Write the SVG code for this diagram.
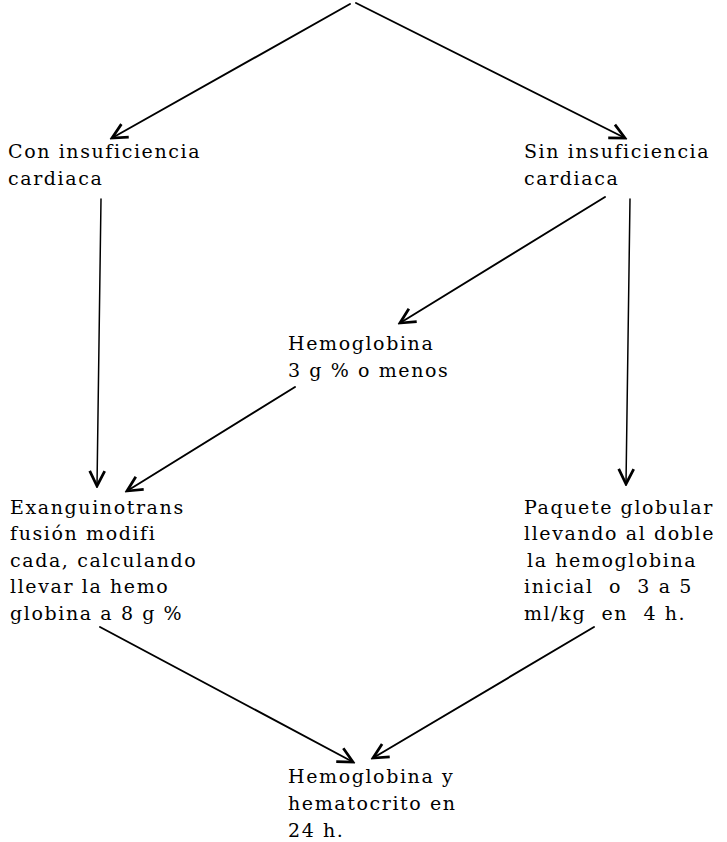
<svg xmlns="http://www.w3.org/2000/svg" width="727" height="842" viewBox="0 0 727 842">
<defs>
<style>
text{font-family:"DejaVu Serif","Liberation Serif",serif;font-size:19px;letter-spacing:1.6px;fill:#000}
.c{fill:none;stroke:#000;stroke-width:1.9;stroke-linecap:round}
.v{stroke-width:1.5}
</style>
<marker id="ah" markerUnits="userSpaceOnUse" markerWidth="20" markerHeight="20" viewBox="-14 -8 16 16" refX="0" refY="0" orient="auto">
<path d="M-12,-6 L0,0 L-12,6" fill="none" stroke="#000" stroke-width="2.2" stroke-linejoin="miter"/>
</marker>
</defs>
<rect width="727" height="842" fill="#fff"/>
<g id="connectors">
<path class="c" d="M350,4 L112,138" marker-end="url(#ah)"/>
<path class="c" d="M356,3 L625,138" marker-end="url(#ah)"/>
<path class="c v" d="M101,199 L97,486" marker-end="url(#ah)"/>
<path class="c v" d="M630,199 L626,484" marker-end="url(#ah)"/>
<path class="c" d="M605,197 L400,323" marker-end="url(#ah)"/>
<path class="c" d="M295,387 L127,491" marker-end="url(#ah)"/>
<path class="c" d="M100,627 L353,762" marker-end="url(#ah)"/>
<path class="c" d="M594,627 L373,758" marker-end="url(#ah)"/>
</g>
<g id="con">
<text x="8" y="158">Con insuficiencia</text>
<text x="8" y="185">cardiaca</text>
</g>
<g id="sin">
<text x="524" y="158">Sin insuficiencia</text>
<text x="524" y="185">cardiaca</text>
</g>
<g id="hemo3">
<text x="288" y="350">Hemoglobina</text>
<text x="288" y="377">3 g % o menos</text>
</g>
<g id="exang">
<text x="10" y="514">Exanguinotrans</text>
<text x="10" y="540">fusión modifi</text>
<text x="10" y="567">cada, calculando</text>
<text x="10" y="593">llevar la hemo</text>
<text x="10" y="620">globina a 8 g %</text>
</g>
<g id="paquete">
<text x="524" y="514">Paquete globular</text>
<text x="524" y="540">llevando al doble</text>
<text x="527" y="567">la hemoglobina</text>
<text x="524" y="593" xml:space="preserve">inicial  o  3 a 5</text>
<text x="524" y="620" xml:space="preserve">ml/kg  en  4 h.</text>
</g>
<g id="hemo24">
<text x="288" y="783">Hemoglobina y</text>
<text x="288" y="810">hematocrito en</text>
<text x="288" y="837">24 h.</text>
</g>
</svg>
